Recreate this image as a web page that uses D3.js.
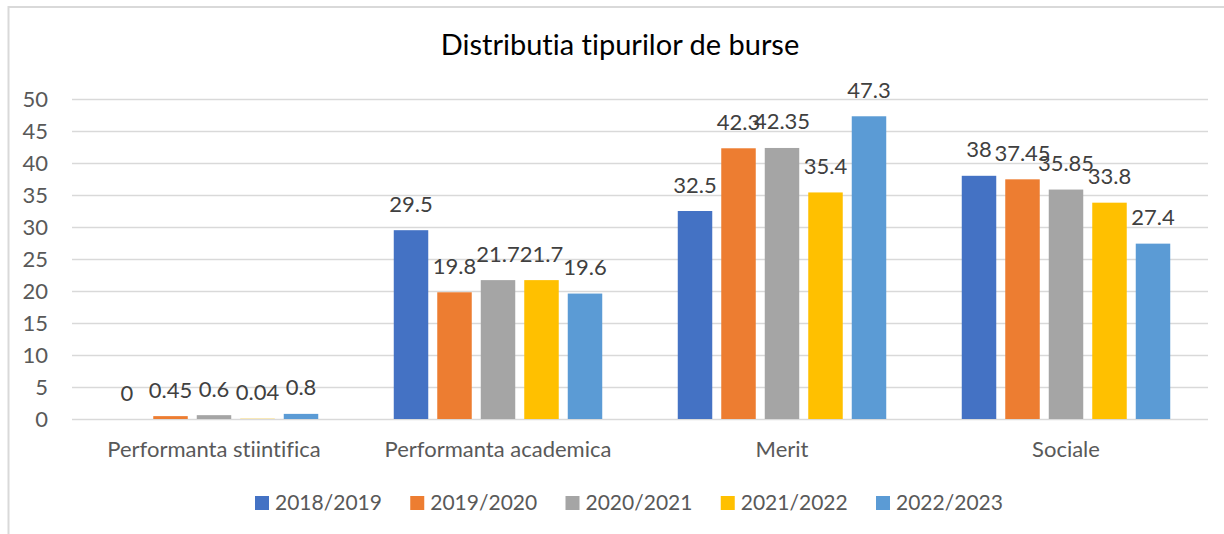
<!DOCTYPE html>
<html>
<head>
<meta charset="utf-8">
<script src="https://cdn.jsdelivr.net/npm/d3@7"></script>
<style>
  html, body { margin: 0; padding: 0; background: #fff; }
  svg { display: block; font-family: Lato, "Open Sans", sans-serif; font-variant-ligatures: none; font-feature-settings: "liga" 0, "dlig" 0; }
</style>
</head>
<body>
<svg id="chart" width="1224" height="534"></svg>
<script>
const categories = ["Performanta stiintifica", "Performanta academica", "Merit", "Sociale"];
const seriesNames = ["2018/2019", "2019/2020", "2020/2021", "2021/2022", "2022/2023"];
const values2018_2019 = [0, 29.5, 32.5, 38];
const values2019_2020 = [0.45, 19.8, 42.3, 37.45];
const values2020_2021 = [0.6, 21.7, 42.35, 35.85];
const values2021_2022 = [0.04, 21.7, 35.4, 33.8];
const values2022_2023 = [0.8, 19.6, 47.3, 27.4];
const yTicks = [0, 5, 10, 15, 20, 25, 30, 35, 40, 45, 50];
const seriesColors = ["#4472C4", "#ED7D31", "#A5A5A5", "#FFC000", "#5B9BD5"];
const chartTitle = "Distributia tipurilor de burse";

const seriesValues = [values2018_2019, values2019_2020, values2020_2021, values2021_2022, values2022_2023];
const rows = [];
seriesNames.forEach((s, si) => categories.forEach((c, ci) => rows.push({ series: s, category: c, value: seriesValues[si][ci], color: seriesColors[si] })));

const svg = d3.select("#chart");
const plot = { left: 72, right: 1208, top: 99, bottom: 419 };

// chart frame (border of the chart area)
svg.append("path")
  .attr("d", `M8.5,534 V7 H1224`)
  .attr("fill", "none").attr("stroke", "#d9d9d9").attr("stroke-width", 2);

const x0 = d3.scaleBand().domain(categories).range([plot.left, plot.right]).padding(0);
const x1 = d3.scaleBand().domain(seriesNames).range([0, x0.bandwidth()]).paddingInner(0.207).paddingOuter(0.868);
const y = d3.scaleLinear().domain([0, 50]).range([plot.bottom, plot.top]);
const color = d3.scaleOrdinal().domain(seriesNames).range(seriesColors);

// gridlines + y tick labels
const yAxis = svg.append("g").attr("transform", `translate(${plot.left},0)`)
  .call(d3.axisLeft(y).tickValues(yTicks).tickSize(-(plot.right - plot.left)).tickPadding(24).tickFormat(d3.format("d")));
yAxis.select(".domain").remove();
yAxis.selectAll(".tick line").attr("stroke", "#d9d9d9").attr("stroke-width", 1.5);
yAxis.selectAll(".tick text").attr("fill", "#595959").attr("font-size", 22).attr("font-family", "Lato, sans-serif").attr("dy", "0.36em");

// bars
const groups = svg.append("g").selectAll("g").data(categories).join("g")
  .attr("transform", d => `translate(${x0(d)},0)`);

groups.selectAll("rect").data(c => rows.filter(r => r.category === c)).join("rect")
  .attr("x", d => x1(d.series))
  .attr("width", x1.bandwidth())
  .attr("y", d => y(d.value))
  .attr("height", d => y(0) - y(d.value))
  .attr("fill", d => color(d.series));

groups.selectAll("text.lbl").data(c => rows.filter(r => r.category === c)).join("text")
  .attr("class", "lbl")
  .attr("x", d => x1(d.series) + x1.bandwidth() / 2)
  .attr("y", d => y(d.value) - 18.5)
  .attr("text-anchor", "middle")
  .attr("fill", "#404040")
  .attr("font-size", 22)
  .text(d => String(d.value));

// category axis
const xAxis = svg.append("g").attr("transform", `translate(0,${plot.bottom})`)
  .call(d3.axisBottom(x0).tickSize(0).tickPadding(0));
xAxis.select(".domain").remove();
xAxis.selectAll(".tick text").attr("y", 38).attr("dy", 0).attr("fill", "#595959").attr("font-size", 22).attr("font-family", "Lato, sans-serif");

// title
svg.append("text")
  .attr("x", 620).attr("y", 55)
  .attr("text-anchor", "middle").attr("fill", "#000").attr("font-size", 29)
  .text(chartTitle);

// legend
const lx = d3.scalePoint().domain(seriesNames).range([255, 876]);
const legend = svg.append("g").selectAll("g").data(seriesNames).join("g")
  .attr("transform", d => `translate(${lx(d)},0)`);
legend.append("rect").attr("x", 0).attr("y", 496).attr("width", 14).attr("height", 14).attr("fill", d => color(d));
legend.append("text").attr("x", 20).attr("y", 510).attr("fill", "#595959").attr("font-size", 21).text(d => d);
</script>
</body>
</html>
